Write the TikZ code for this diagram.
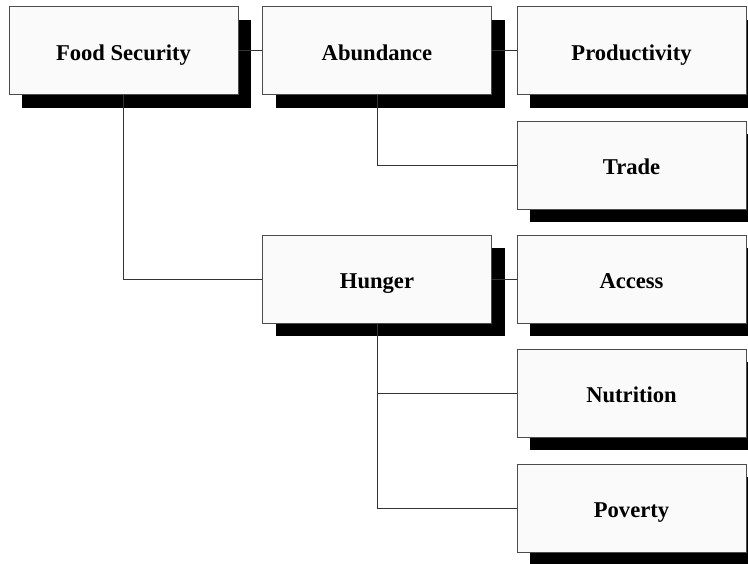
\documentclass[tikz,border=0pt]{standalone}
\usepackage{fontspec}
\setmainfont{Liberation Serif}
\usetikzlibrary{shadows}

\tikzset{
  topic/.style={draw=black!70, fill=white!98!black, line width=0.5pt,
    minimum width=114.5pt, minimum height=44pt, inner sep=0pt,
    text height=9.5pt, text depth=0pt,
    font=\fontsize{11.3}{13}\selectfont\bfseries,
    drop shadow={shadow xshift=6.5pt, shadow yshift=-6.5pt, fill=black, opacity=1}},
  link/.style={draw=black!80, line width=0.5pt}
}

\begin{document}
\begin{tikzpicture}[x=0.5pt, y=-0.5pt]
  \useasboundingbox (0,0) rectangle (748,563);
  % left column
  \node[topic] (food) at (123.5,50.5) {Food Security};
  % middle column
  \node[topic] (abund) at (377,50.5) {Abundance};
  \node[topic] (hunger) at (377,279) {Hunger};
  % right column
  \node[topic] (prod) at (631.5,50.5) {Productivity};
  \node[topic] (trade) at (631.5,165) {Trade};
  \node[topic] (access) at (631.5,279) {Access};
  \node[topic] (nutr) at (631.5,393) {Nutrition};
  \node[topic] (pov) at (631.5,508) {Poverty};

  \draw[link] (food.east) -- (abund.west);
  \draw[link] (abund.east) -- (prod.west);
  \draw[link] (hunger.east) -- (access.west);
  \draw[link] (food.south) |- (hunger.west);
  \draw[link] (abund.south) |- (trade.west);
  \draw[link] (hunger.south) |- (nutr.west);
  \draw[link] (hunger.south) |- (pov.west);
\end{tikzpicture}
\end{document}
